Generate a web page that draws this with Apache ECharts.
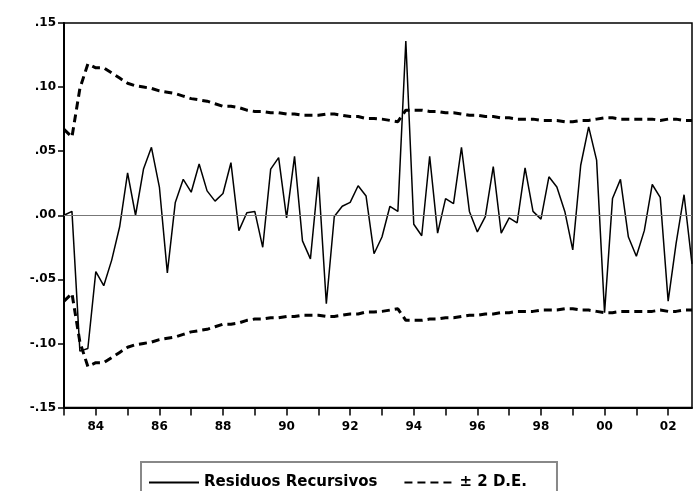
<!DOCTYPE html>
<html>
<head>
<meta charset="utf-8">
<script src="https://cdn.jsdelivr.net/npm/echarts@6/dist/echarts.min.js"></script>
<style>
html,body{margin:0;padding:0;background:#fff;}
#chart{width:695px;height:491px;}
</style>
</head>
<body>
<div id="chart"></div>
<script>
// Quarterly observations 1983Q1 .. 2002Q4
var years = [1983,1984,1985,1986,1987,1988,1989,1990,1991,1992,1993,1994,1995,1996,1997,1998,1999,2000,2001,2002];
var quarters = ['Q1','Q2','Q3','Q4'];

// x tick labels (shown at first quarter of these years)
var xTickYears = [1984,1986,1988,1990,1992,1994,1996,1998,2000,2002];
var xTickLabels = ['84','86','88','90','92','94','96','98','00','02'];

// y tick labels from -0.15 to 0.15
var yTickValues = [-0.15,-0.10,-0.05,0.00,0.05,0.10,0.15];
var yTickLabels = ['-.15','-.10','-.05','.00','.05','.10','.15'];

// Recursive residuals
var residuos = [
  0.000, 0.003,-0.106,-0.104,-0.044,-0.055,-0.035,-0.009, 0.033, 0.000,
  0.036, 0.053, 0.022,-0.045, 0.010, 0.028, 0.018, 0.040, 0.019, 0.011,
  0.017, 0.041,-0.012, 0.002, 0.003,-0.025, 0.036, 0.045,-0.002, 0.046,
 -0.020,-0.034, 0.030,-0.069,-0.001, 0.007, 0.010, 0.023, 0.015,-0.030,
 -0.017, 0.007, 0.003, 0.136,-0.007,-0.016, 0.046,-0.014, 0.013, 0.009,
  0.053, 0.003,-0.013,-0.001, 0.038,-0.014,-0.002,-0.006, 0.037, 0.003,
 -0.003, 0.030, 0.022, 0.003,-0.027, 0.039, 0.069, 0.043,-0.076, 0.013,
  0.028,-0.017,-0.032,-0.012, 0.024, 0.014,-0.067,-0.022, 0.016,-0.038
];

// +2 S.E. band
var bandaSup = [
  0.067, 0.061, 0.099, 0.118, 0.115, 0.115, 0.111, 0.107, 0.103, 0.101,
  0.100, 0.099, 0.097, 0.096, 0.095, 0.093, 0.091, 0.090, 0.089, 0.087,
  0.085, 0.085, 0.084, 0.082, 0.081, 0.081, 0.080, 0.080, 0.079, 0.079,
  0.078, 0.078, 0.078, 0.079, 0.079, 0.078, 0.077, 0.077, 0.0755, 0.0755,
  0.075, 0.074, 0.073, 0.082, 0.082, 0.082, 0.081, 0.081, 0.080, 0.080,
  0.079, 0.078, 0.078, 0.077, 0.077, 0.076, 0.076, 0.075, 0.075, 0.075,
  0.074, 0.074, 0.074, 0.073, 0.073, 0.074, 0.074, 0.075, 0.076, 0.076,
  0.075, 0.075, 0.075, 0.075, 0.075, 0.074, 0.075, 0.075, 0.074, 0.074
];

// -2 S.E. band
var bandaInf = [
 -0.067,-0.061,-0.099,-0.118,-0.115,-0.115,-0.111,-0.107,-0.103,-0.101,
 -0.100,-0.099,-0.097,-0.096,-0.095,-0.093,-0.091,-0.090,-0.089,-0.087,
 -0.085,-0.085,-0.084,-0.082,-0.081,-0.081,-0.080,-0.080,-0.079,-0.079,
 -0.078,-0.078,-0.078,-0.079,-0.079,-0.078,-0.077,-0.077,-0.0755,-0.0755,
 -0.075,-0.074,-0.073,-0.082,-0.082,-0.082,-0.081,-0.081,-0.080,-0.080,
 -0.079,-0.078,-0.078,-0.077,-0.077,-0.076,-0.076,-0.075,-0.075,-0.075,
 -0.074,-0.074,-0.074,-0.073,-0.073,-0.074,-0.074,-0.075,-0.076,-0.076,
 -0.075,-0.075,-0.075,-0.075,-0.075,-0.074,-0.075,-0.075,-0.074,-0.074
];

var categories = [];
years.forEach(function(y){ quarters.forEach(function(q){ categories.push(y + q); }); });

var FONT = 'DejaVu Sans';

var chart = echarts.init(document.getElementById('chart'), null, {renderer:'canvas'});
var option = {
  animation: false,
  backgroundColor: '#fff',
  grid: {left:64, right:3, top:23, bottom:83.5, show:true, borderColor:'#000', borderWidth:1.5, backgroundColor:'transparent'},
  xAxis: {
    type:'category', data:categories, boundaryGap:false,
    axisLine:{show:true, onZero:false, lineStyle:{color:'#000', width:2}},
    axisTick:{show:true, interval:3, length:8, lineStyle:{color:'#000', width:1.5}},
    axisLabel:{
      interval:function(i, v){ return v.slice(4) === 'Q1' && xTickYears.indexOf(parseInt(v.slice(0,4),10)) >= 0; },
      formatter:function(v){ var k = xTickYears.indexOf(parseInt(v.slice(0,4),10)); return k >= 0 ? xTickLabels[k] : ''; },
      color:'#000', fontFamily:FONT, fontWeight:'bold', fontSize:12, margin:13
    },
    splitLine:{show:false}
  },
  yAxis: {
    type:'value', min:-0.15, max:0.15, interval:0.05,
    axisLine:{show:true, onZero:false, lineStyle:{color:'#000', width:2}},
    axisTick:{show:true, length:6, lineStyle:{color:'#000', width:1.5}},
    axisLabel:{
      formatter:function(v){ for (var k=0;k<yTickValues.length;k++){ if (Math.abs(yTickValues[k]-v) < 1e-6) return yTickLabels[k]; } return ''; },
      color:'#000', fontFamily:FONT, fontWeight:'bold', fontSize:12, margin:8
    },
    splitLine:{show:false}
  },
  legend: {
    left:141, top:462, orient:'horizontal',
    padding:[13,30,20,7], itemGap:26, itemWidth:50, itemHeight:14,
    borderColor:'#888', borderWidth:2,
    itemStyle:{opacity:0},
    textStyle:{fontFamily:FONT, fontWeight:'bold', fontSize:15, color:'#000'},
    data:[{name:'Residuos Recursivos'},{name:'± 2 D.E.'}]
  },
  series: [
    {
      name:'Residuos Recursivos', type:'line', data:residuos, symbol:'none', showSymbol:false,
      lineStyle:{color:'#000', width:1.5}, itemStyle:{color:'#000'}, z:3,
      markLine:{silent:true, symbol:['none','none'], label:{show:false},
        lineStyle:{color:'#777', width:1, type:'solid'}, data:[{yAxis:0}]}
    },
    {
      name:'± 2 D.E.', type:'line', data:bandaSup, symbol:'none', showSymbol:false,
      lineStyle:{color:'#000', width:3, type:[8,5]}, itemStyle:{color:'#000'}, z:2
    },
    {
      name:'± 2 D.E.', type:'line', data:bandaInf, symbol:'none', showSymbol:false,
      lineStyle:{color:'#000', width:3, type:[8,5]}, itemStyle:{color:'#000'}, z:2
    }
  ]
};
chart.setOption(option);
</script>
</body>
</html>
